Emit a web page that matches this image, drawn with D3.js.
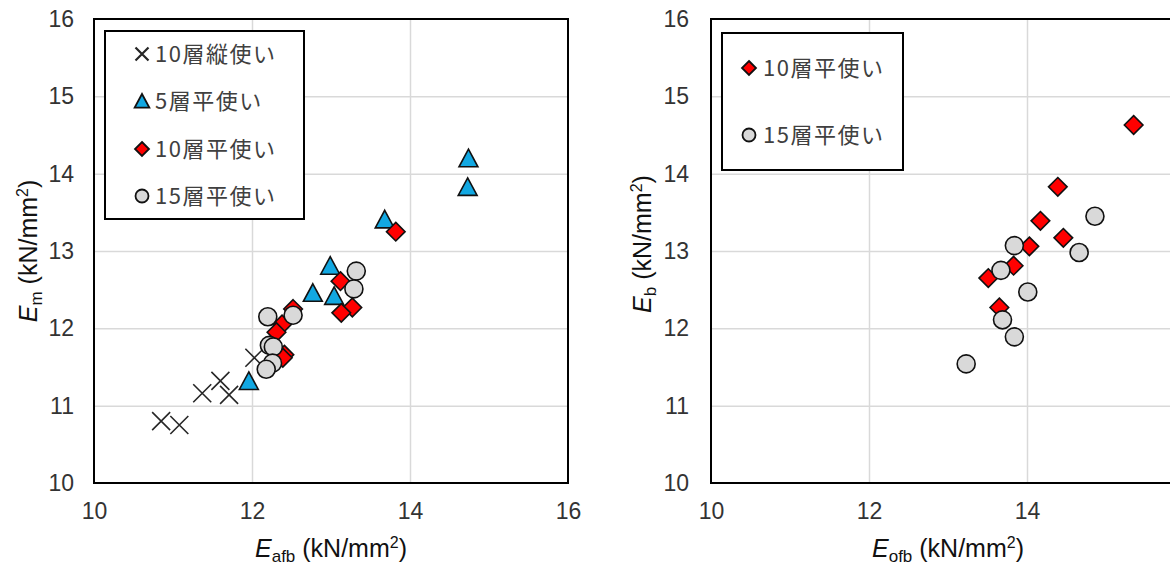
<!DOCTYPE html>
<html>
<head>
<meta charset="utf-8">
<script src="https://cdn.jsdelivr.net/npm/d3@7"></script>
<style>
  body { margin: 0; background: #fff; }
  .grid line { stroke: #d9d9d9; stroke-width: 1.5; }
  .grid .domain { display: none; }
  .ticks .domain { display: none; }
  .ticks text { font-family: "Liberation Sans", Arial, sans-serif; font-size: 23px; fill: #333; }
  .title { font-family: "Liberation Sans", Arial, sans-serif; font-size: 25px; fill: #111; }
  .legend text { font-family: "Noto Sans CJK JP", sans-serif; font-size: 22px; fill: #404040; letter-spacing: 1.5px; }
</style>
</head>
<body>
<svg id="chart" width="1170" height="568"></svg>
<script>
'use strict';

// left panel: E_afb (x) vs E_m (y)
const tate10 = [[10.85, 10.80], [11.08, 10.75], [11.37, 11.16], [11.60, 11.32], [11.71, 11.14], [12.03, 11.62]];
const hira5 = [[14.74, 14.20], [14.73, 13.83], [13.68, 13.41], [12.99, 12.81], [12.77, 12.46], [13.04, 12.42], [11.96, 11.32]];
const hira10 = [[13.82, 13.25], [13.12, 12.61], [13.27, 12.27], [13.13, 12.20], [12.52, 12.25], [12.38, 12.05],
  [12.31, 11.95], [12.41, 11.66], [12.39, 11.62]];
const hira15 = [[13.32, 12.74], [13.29, 12.51], [12.20, 12.15], [12.52, 12.17], [12.22, 11.78], [12.27, 11.76],
  [12.26, 11.55], [12.18, 11.47]];

// right panel: E_ofb (x) vs E_b (y)
const hira10b = [[15.35, 14.63], [14.39, 13.83], [14.17, 13.39], [14.46, 13.17], [14.03, 13.06], [13.83, 12.81],
  [13.51, 12.65], [13.65, 12.27]];
const hira15b = [[14.86, 13.45], [14.66, 12.98], [13.84, 13.07], [13.67, 12.75], [14.01, 12.47], [13.69, 12.11],
  [13.84, 11.89], [13.23, 11.54]];

const xTicks = [10, 12, 14, 16];
const xTicksRight = [10, 12, 14]; // the 16 label falls outside the picture
const yTicks = [10, 11, 12, 13, 14, 15, 16];
const names = ['10層縦使い', '5層平使い', '10層平使い', '15層平使い'];

// marker shapes, size = half width in px
const cross = { draw(c, s) { c.moveTo(-s, -s); c.lineTo(s, s); c.moveTo(s, -s); c.lineTo(-s, s); } };
const tri = { draw(c, s) { c.moveTo(0, -s); c.lineTo(s * 1.05, s * 0.95); c.lineTo(-s * 1.05, s * 0.95); c.closePath(); } };
const diamond = { draw(c, s) { c.moveTo(0, -s); c.lineTo(s, 0); c.lineTo(0, s); c.lineTo(-s, 0); c.closePath(); } };
const circle = { draw(c, s) { c.moveTo(s, 0); c.arc(0, 0, s, 0, 2 * Math.PI); } };

const styles = {
  tate10: { type: cross, size: 9, lsize: 6.5, fill: 'none', stroke: '#262626' },
  hira5: { type: tri, size: 9, lsize: 7, fill: '#12a8e2', stroke: '#111' },
  hira10: { type: diamond, size: 9.3, lsize: 7, fill: '#ff0000', stroke: '#111' },
  hira15: { type: circle, size: 9, lsize: 6.5, fill: '#d9d9d9', stroke: '#111' }
};

const svg = d3.select('#chart');
const plotTop = 19, plotBottom = 483;

function panel(opt) {
  const x = d3.scaleLinear().domain([10, 16]).range(opt.xr);
  const y = d3.scaleLinear().domain([10, 16]).range([plotBottom, plotTop]);
  const g = svg.append('g');

  g.append('g')
    .attr('class', 'grid')
    .attr('transform', `translate(0,${plotBottom})`)
    .call(d3.axisBottom(x).tickValues([12, 14]).tickSize(-(plotBottom - plotTop)).tickFormat(''));
  g.append('g')
    .attr('class', 'grid')
    .attr('transform', `translate(${opt.xr[0]},0)`)
    .call(d3.axisLeft(y).tickValues([11, 12, 13, 14, 15]).tickSize(-(opt.xr[1] - opt.xr[0])).tickFormat(''));

  g.append('rect')
    .attr('x', x(10))
    .attr('y', y(16))
    .attr('width', x(16) - x(10))
    .attr('height', y(10) - y(16))
    .attr('fill', 'none')
    .attr('stroke', '#000')
    .attr('stroke-width', 2);

  g.append('g')
    .attr('class', 'ticks')
    .attr('transform', `translate(0,${plotBottom})`)
    .call(d3.axisBottom(x).tickValues(opt.xticks).tickSize(0).tickPadding(20).tickFormat(d3.format('d')));
  g.append('g')
    .attr('class', 'ticks')
    .attr('transform', `translate(${opt.xr[0]},0)`)
    .call(d3.axisLeft(y).tickValues(yTicks).tickSize(0).tickPadding(opt.ypad).tickFormat(d3.format('d')));

  // points, in series order so later series sit on top
  for (const s of opt.series) {
    const st = styles[s.key];
    g.append('g')
      .selectAll('path')
      .data(s.data)
      .enter().append('path')
        .attr('transform', d => `translate(${x(d[0])},${y(d[1])})`)
        .attr('d', d3.symbol().type(st.type).size(st.size))
        .attr('fill', st.fill)
        .attr('stroke', st.stroke)
        .attr('stroke-width', 1.6);
  }

  // legend
  const lg = g.append('g').attr('class', 'legend');
  lg.append('rect')
    .attr('x', opt.legend.x)
    .attr('y', opt.legend.y)
    .attr('width', opt.legend.w)
    .attr('height', opt.legend.h)
    .attr('fill', '#fff')
    .attr('stroke', '#000')
    .attr('stroke-width', 2);
  opt.series.forEach((s, i) => {
    const st = styles[s.key];
    const cy = opt.legend.rows[i];
    lg.append('path')
      .attr('transform', `translate(${opt.legend.mx},${cy})`)
      .attr('d', d3.symbol().type(st.type).size(st.lsize))
      .attr('fill', st.fill)
      .attr('stroke', st.stroke)
      .attr('stroke-width', s.key === 'tate10' ? 2.2 : 1.8);
    lg.append('text')
      .attr('x', opt.legend.tx)
      .attr('y', cy)
      .attr('dy', '0.36em')
      .text(s.name);
  });

  // axis titles
  const xt = g.append('text')
    .attr('class', 'title')
    .attr('x', (opt.xr[0] + opt.xr[1]) / 2)
    .attr('y', 557)
    .attr('text-anchor', 'middle');
  xt.append('tspan').attr('font-style', 'italic').text('E');
  xt.append('tspan').attr('font-size', 17).attr('dy', 5).text(opt.xsub);
  xt.append('tspan').attr('dy', -5).text(' (kN/mm');
  xt.append('tspan').attr('font-size', 16).attr('dy', -9).text('2');
  xt.append('tspan').attr('dy', 9).text(')');

  const yt = g.append('text')
    .attr('class', 'title')
    .attr('transform', `translate(${opt.ytx},${opt.yty}) rotate(-90)`)
    .attr('text-anchor', 'middle');
  yt.append('tspan').attr('font-style', 'italic').text('E');
  yt.append('tspan').attr('font-size', 17).attr('dy', 5).text(opt.ysub);
  yt.append('tspan').attr('dy', -5).text(' (kN/mm');
  yt.append('tspan').attr('font-size', 16).attr('dy', -9).text('2');
  yt.append('tspan').attr('dy', 9).text(')');
}

panel({
  xr: [94, 568],
  xticks: xTicks,
  ypad: 20,
  xsub: 'afb',
  ysub: 'm',
  ytx: 37,
  yty: 251,
  series: [
    { key: 'tate10', name: names[0], data: tate10 },
    { key: 'hira5', name: names[1], data: hira5 },
    { key: 'hira10', name: names[2], data: hira10 },
    { key: 'hira15', name: names[3], data: hira15 }
  ],
  legend: { x: 105, y: 31, w: 199, h: 188, mx: 142, tx: 155, rows: [54, 101, 149, 196] }
});

panel({
  xr: [711, 1185],
  xticks: xTicksRight,
  ypad: 22,
  xsub: 'ofb',
  ysub: 'b',
  ytx: 651,
  yty: 244,
  series: [
    { key: 'hira10', name: names[2], data: hira10b },
    { key: 'hira15', name: names[3], data: hira15b }
  ],
  legend: { x: 722, y: 33, w: 181, h: 137, mx: 749, tx: 763, rows: [68, 135] }
});
</script>
</body>
</html>
